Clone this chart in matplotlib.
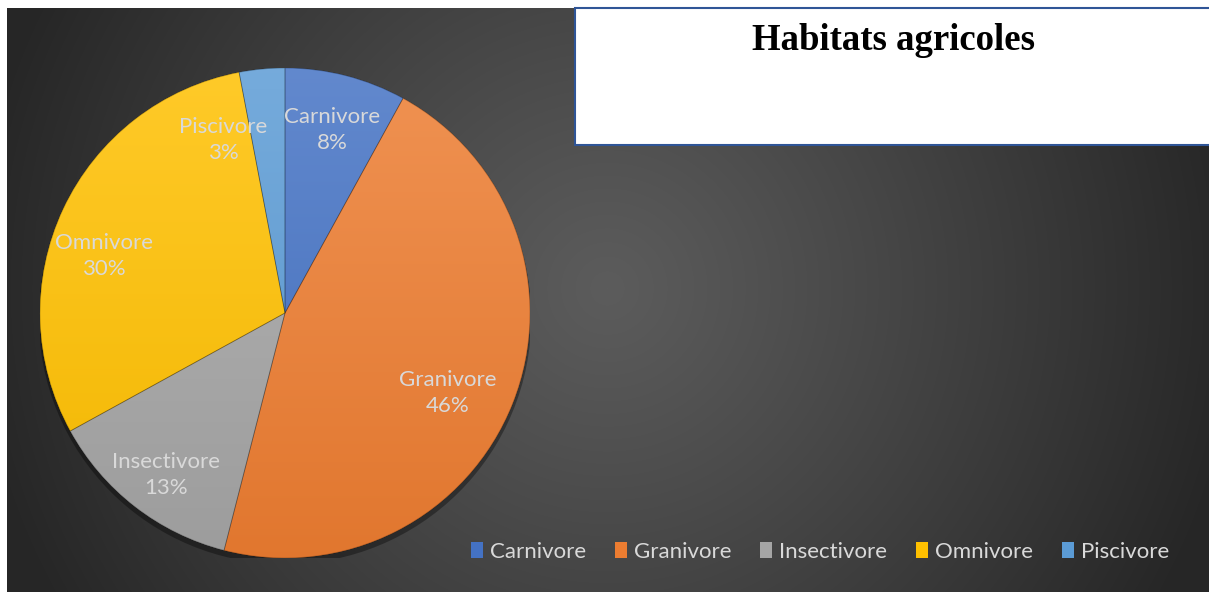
import numpy as np
import matplotlib.pyplot as plt
from matplotlib.patches import Wedge, Rectangle, Patch, Circle
import matplotlib.colors as mcolors

# DATA
categories = ['Carnivore', 'Granivore', 'Insectivore', 'Omnivore', 'Piscivore']
shares = [8, 46, 13, 30, 3]
colors = ['#4472C4', '#ED7D31', '#A5A5A5', '#FFC000', '#5B9BD5']
title = 'Habitats agricoles'

W, H = 1209, 592
fig = plt.figure(figsize=(W / 100, H / 100), dpi=100)
fig.patch.set_facecolor('white')

# DARK RADIAL BACKGROUND
bg = fig.add_axes([7 / W, 0, 1 - 7 / W, 1 - 8 / H])
yy, xx = np.mgrid[0:584, 0:1202]
d = np.clip(np.hypot(xx - 600, yy - 280) / 640, 0, 1)
shade = 0x5c / 255 + (0x26 / 255 - 0x5c / 255) * d ** 1.1
bg.imshow(np.dstack([shade] * 3), aspect='auto', extent=(0, 1, 0, 1))
bg.axis('off')

# TITLE BOX
fig.add_artist(Rectangle((575 / W, 1 - 145 / H), (W - 570) / W, 137 / H,
                         transform=fig.transFigure, fc='white', ec='#2F5597', lw=1.5))
fig.text(894 / W, 1 - 40 / H, title, ha='center', va='center',
         family='Liberation Serif', weight='bold', size=26.5, color='black')

# PIE
cx, cy, r = 285, 313, 245
ax = fig.add_axes([(cx - r) / W, (H - cy - r) / H, 2 * r / W, 2 * r / H])
ax.add_patch(Circle((0.0, -0.02), 1.005, fc='black', alpha=0.35, lw=0, zorder=0))
wedges, _ = ax.pie(shares, colors=colors, startangle=90, counterclock=False,
                   radius=1, wedgeprops=dict(lw=0))

t = np.linspace(0, 1, 256)[:, None, None]
for w, c in zip(wedges, colors):
    base = np.array(mcolors.to_rgb(c))
    top = base * 0.84 + 0.16
    bottom = base * 0.95
    img = top * (1 - t) + bottom * t
    ax.imshow(np.repeat(img, 2, axis=1), extent=(-1, 1, -1, 1), aspect='auto',
              clip_path=w, zorder=2)
    ax.add_patch(Wedge((0, 0), 1, w.theta1, w.theta2, fc='none',
                       ec=(0, 0, 0, 0.25), lw=0.6, zorder=3))

# DATA LABELS
label_radius = [0.77, 0.74, 0.82, 0.775, 0.75]
label_shift = [0, -4.5, 1.5, 7.7, 14.3]
for w, name, v, lr, sh in zip(wedges, categories, shares, label_radius, label_shift):
    ang = np.deg2rad((w.theta1 + w.theta2) / 2 + sh)
    ax.text(lr * np.cos(ang), lr * np.sin(ang), f'{name}\n{v}%', ha='center', va='center',
            family='Lato', size=16, color='#D9D9D9', linespacing=1.4, zorder=4)

ax.set_xlim(-1, 1)
ax.set_ylim(-1, 1)
ax.axis('off')

# LEGEND
handles = [Patch(fc=c, ec='none') for c in colors]
fig.legend(handles, categories, loc='center', bbox_to_anchor=(820 / W, 1 - 552 / H), ncol=5,
           frameon=False, labelcolor='#D9D9D9', prop=dict(family='Lato', size=16),
           handlelength=0.55, handleheight=0.7, handletextpad=0.3, columnspacing=1.3)

plt.savefig('out.png', dpi=100, facecolor='white')
